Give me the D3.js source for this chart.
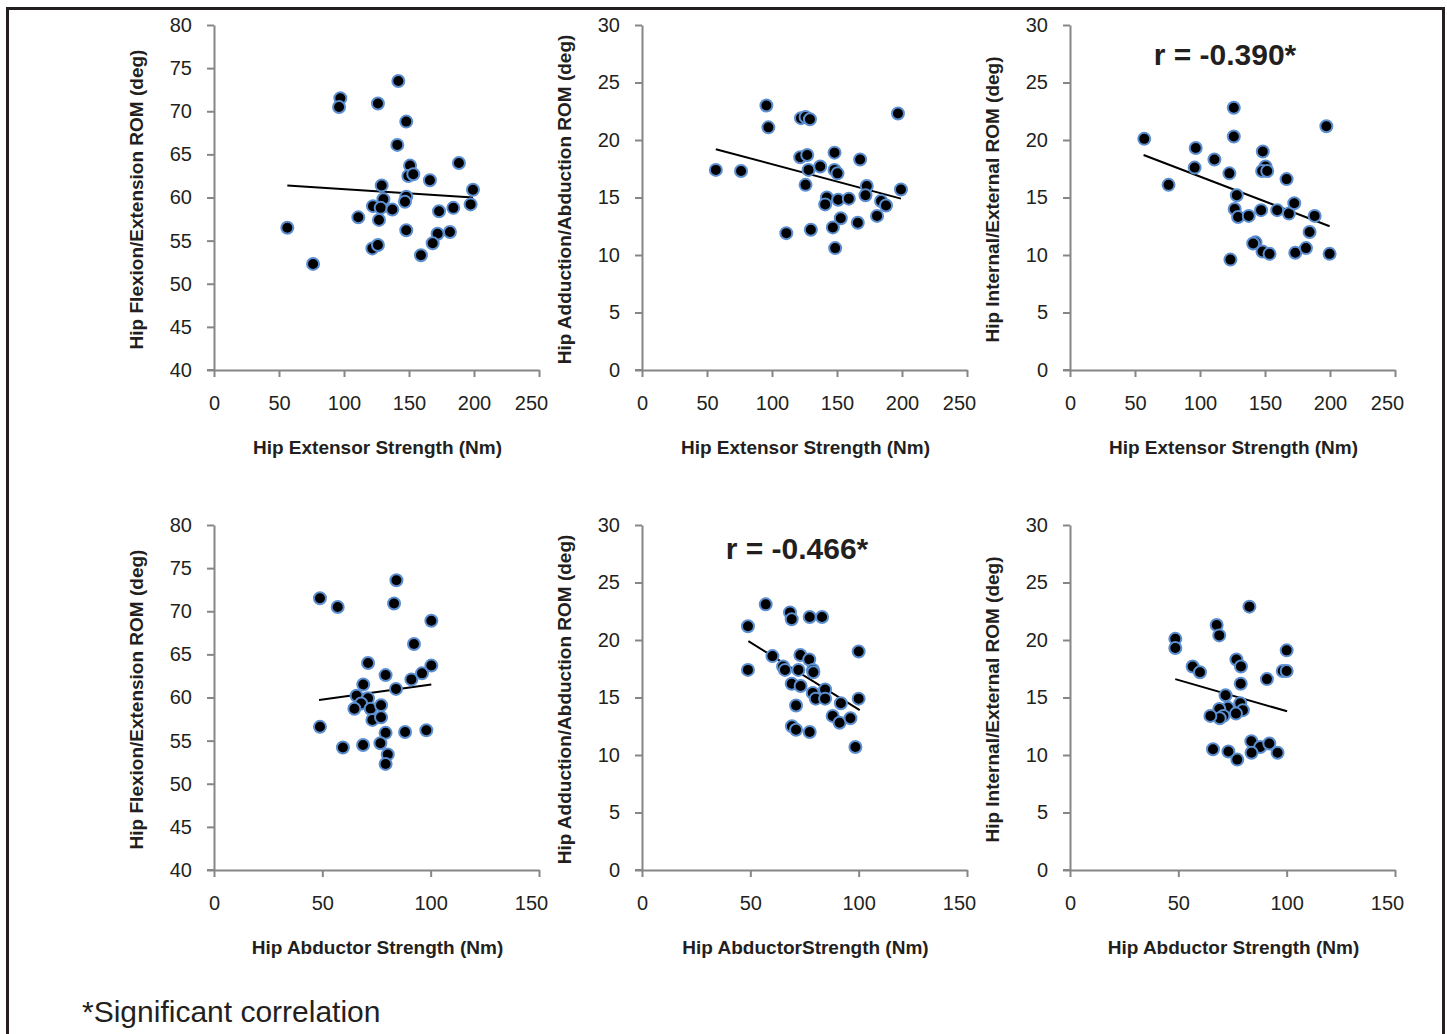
<!DOCTYPE html>
<html>
<head>
<meta charset="utf-8">
<script src="https://cdn.jsdelivr.net/npm/d3@7"></script>
<style>
  body { margin: 0; background: #fff; }
  text { font-family: "Liberation Sans", Arial, sans-serif; fill: #231f20; }
</style>
</head>
<body>
<div id="chart"></div>
<script>
// axis ticks
var extTicks = [0, 50, 100, 150, 200, 250];
var abdTicks = [0, 50, 100, 150];
var flexTicks = [40, 45, 50, 55, 60, 65, 70, 75, 80];
var romTicks = [0, 5, 10, 15, 20, 25, 30];

// panel 1: hip extensor strength vs flexion/extension ROM
var flexVsExt = [[56.4,56.5],[76.2,52.3],[97.2,71.5],[96.2,70.5],[126.1,70.9],[141.8,73.5],[147.9,68.8],
  [141.0,66.1],[150.8,63.7],[149.5,62.5],[153.3,62.7],[166.1,62.0],[188.4,64.0],[199.2,60.9],[197.4,59.2],
  [129.0,61.4],[130.3,59.8],[122.3,59.0],[128.2,58.8],[137.2,58.6],[147.9,60.1],[146.9,59.5],[111.0,57.7],
  [126.9,57.4],[173.1,58.4],[184.1,58.8],[147.9,56.2],[172.0,55.8],[181.5,56.0],[121.8,54.1],[126.1,54.5],
  [168.2,54.7],[159.2,53.3]];
var flexVsExtTrend = [[56.4,61.4],[199.2,60.0]];

// panel 2: hip extensor strength vs adduction/abduction ROM
var addVsExt = [[56.8,17.4],[76.2,17.3],[95.7,23.0],[97.2,21.1],[122.3,21.9],[125.8,22.0],[129.2,21.8],
  [121.7,18.5],[127.1,18.7],[128.1,17.4],[137.1,17.7],[148.1,18.9],[148.1,17.4],[150.4,17.1],[167.8,18.3],
  [125.8,16.1],[172.9,16.0],[171.9,15.2],[199.2,15.7],[196.9,22.3],[142.2,15.0],[140.9,14.4],[150.9,14.8],
  [159.1,14.9],[183.9,14.7],[187.7,14.3],[152.9,13.2],[166.0,12.8],[180.8,13.4],[111.0,11.9],[129.9,12.2],
  [146.8,12.4],[148.6,10.6]];
var addVsExtTrend = [[56.8,19.2],[199.2,14.9]];

// panel 3: hip extensor strength vs internal/external ROM
var rotVsExt = [[57.1,20.1],[75.8,16.1],[96.7,19.3],[95.9,17.6],[111.1,18.3],[122.6,17.1],[126.0,22.8],
  [126.0,20.3],[148.3,19.0],[150.4,17.7],[147.8,17.3],[151.7,17.3],[166.6,16.6],[197.2,21.2],[128.3,15.2],
  [126.7,14.0],[129.3,13.3],[137.5,13.4],[147.0,13.9],[159.4,13.9],[168.4,13.6],[172.5,14.5],[188.2,13.4],
  [184.3,12.0],[142.7,11.1],[140.9,11.0],[148.1,10.3],[153.5,10.1],[173.3,10.2],[181.5,10.6],[199.7,10.1],
  [123.4,9.6]];
var rotVsExtTrend = [[56.6,18.7],[199.7,12.5]];

// panel 4: hip abductor strength vs flexion/extension ROM
var flexVsAbd = [[48.9,71.5],[57.1,70.5],[84.2,73.6],[83.1,70.9],[100.3,68.9],[92.3,66.2],[71.1,64.0],
  [79.2,62.6],[91.1,62.1],[96.0,62.8],[100.3,63.7],[68.9,61.5],[84.0,61.0],[65.8,60.2],[71.1,59.9],
  [67.9,59.3],[64.8,58.7],[72.3,58.7],[77.1,59.1],[73.1,57.4],[77.1,57.7],[48.9,56.6],[79.2,55.9],
  [88.2,56.0],[98.0,56.2],[59.5,54.2],[68.8,54.5],[76.8,54.7],[80.2,53.4],[79.2,52.3]];
var flexVsAbdTrend = [[48.5,59.7],[100.3,61.5]];

// panel 5: hip abductor strength vs adduction/abduction ROM
var addVsAbd = [[48.9,21.2],[48.9,17.4],[57.1,23.1],[68.3,22.4],[69.1,21.8],[77.4,22.0],[83.1,22.0],
  [60.2,18.6],[65.1,17.7],[66.0,17.4],[73.1,18.7],[72.2,17.4],[77.2,18.3],[78.9,17.4],[79.1,17.2],
  [69.1,16.2],[73.2,16.0],[78.8,15.4],[80.2,14.9],[84.5,15.7],[84.5,14.9],[100.0,19.0],[100.0,14.9],
  [91.8,14.5],[71.1,14.3],[88.0,13.4],[91.2,12.8],[96.2,13.2],[69.2,12.5],[71.1,12.2],[77.4,12.0],
  [98.5,10.7]];
var addVsAbdTrend = [[49.1,19.9],[100.5,13.9]];

// panel 6: hip abductor strength vs internal/external ROM
var rotVsAbd = [[48.6,20.1],[48.6,19.3],[67.7,21.3],[68.9,20.4],[82.8,22.9],[56.6,17.7],[60.0,17.2],
  [76.8,18.3],[78.9,17.7],[78.8,16.2],[90.9,16.6],[100.0,19.1],[98.2,17.3],[100.0,17.3],[71.8,15.2],
  [78.6,14.5],[79.8,13.9],[72.9,14.1],[68.9,14.0],[70.8,13.4],[69.1,13.2],[64.8,13.4],[76.6,13.6],
  [83.7,11.2],[87.8,10.7],[92.0,11.0],[83.8,10.2],[95.8,10.2],[66.0,10.5],[73.1,10.3],[77.2,9.6]];
var rotVsAbdTrend = [[48.6,16.6],[100.2,13.8]];

var xTitles = ["Hip Extensor Strength (Nm)", "Hip Extensor Strength (Nm)", "Hip Extensor Strength (Nm)",
  "Hip Abductor Strength (Nm)", "Hip AbductorStrength (Nm)", "Hip Abductor Strength (Nm)"];
var yTitles = ["Hip Flexion/Extension ROM (deg)", "Hip Adduction/Abduction ROM (deg)", "Hip Internal/External ROM (deg)",
  "Hip Flexion/Extension ROM (deg)", "Hip Adduction/Abduction ROM (deg)", "Hip Internal/External ROM (deg)"];
var rLabels = ["", "", "r = -0.390*", "", "r = -0.466*", ""];

var width = 1447, height = 1034;
var plotW = 325, plotH = 345;
var colX = [214, 642, 1070];
var rowY = [25, 525];

var svg = d3.select("#chart").append("svg")
  .attr("width", width).attr("height", height);

svg.append("rect")
  .attr("x", 7.5).attr("y", 8.5)
  .attr("width", 1436).attr("height", 1040)
  .attr("fill", "#fff").attr("stroke", "#231f20").attr("stroke-width", 3);

var panels = [
  {pts: flexVsExt, trend: flexVsExtTrend, xt: extTicks, yt: flexTicks},
  {pts: addVsExt, trend: addVsExtTrend, xt: extTicks, yt: romTicks},
  {pts: rotVsExt, trend: rotVsExtTrend, xt: extTicks, yt: romTicks},
  {pts: flexVsAbd, trend: flexVsAbdTrend, xt: abdTicks, yt: flexTicks},
  {pts: addVsAbd, trend: addVsAbdTrend, xt: abdTicks, yt: romTicks},
  {pts: rotVsAbd, trend: rotVsAbdTrend, xt: abdTicks, yt: romTicks}
];

panels.forEach(function(p, i) {
  var ox = colX[i % 3], oy = rowY[Math.floor(i / 3)];
  var g = svg.append("g").attr("transform", "translate(" + ox + "," + oy + ")");

  var x = d3.scaleLinear().domain(d3.extent(p.xt)).range([0, plotW]);
  var y = d3.scaleLinear().domain(d3.extent(p.yt)).range([plotH, 0]);

  var xAxis = g.append("g").attr("transform", "translate(0," + plotH + ")")
    .call(d3.axisBottom(x).tickValues(p.xt).tickSize(7).tickSizeOuter(0).tickPadding(19));
  var yAxis = g.append("g")
    .call(d3.axisLeft(y).tickValues(p.yt).tickSize(7).tickSizeOuter(0).tickPadding(15));

  [xAxis, yAxis].forEach(function(a) {
    a.select(".domain").attr("stroke", "#868686").attr("stroke-width", 2);
    a.selectAll(".tick line").attr("stroke", "#868686").attr("stroke-width", 2);
    a.selectAll(".tick text").attr("font-size", 20).attr("fill", "#231f20")
      .attr("font-family", "Liberation Sans, Arial, sans-serif");
  });
  // little stub of the x axis left of the y axis
  g.append("line").attr("x1", -7).attr("x2", 0).attr("y1", plotH).attr("y2", plotH)
    .attr("stroke", "#868686").attr("stroke-width", 2);
  // last x label is pulled in like Excel does
  xAxis.selectAll(".tick text").filter(function(d) { return d === p.xt[p.xt.length - 1]; })
    .attr("dx", -8);

  g.append("line")
    .attr("x1", x(p.trend[0][0])).attr("y1", y(p.trend[0][1]))
    .attr("x2", x(p.trend[1][0])).attr("y2", y(p.trend[1][1]))
    .attr("stroke", "#000").attr("stroke-width", 2);

  g.append("g").selectAll("circle")
    .data(p.pts)
    .enter().append("circle")
    .attr("cx", function(d) { return x(d[0]); })
    .attr("cy", function(d) { return y(d[1]); })
    .attr("r", 6)
    .attr("fill", "#000")
    .attr("stroke", "#5b8fd1")
    .attr("stroke-width", 2);

  g.append("text")
    .attr("x", plotW / 2 + 1).attr("y", plotH + 84)
    .attr("text-anchor", "middle")
    .attr("font-size", 19).attr("font-weight", "bold")
    .text(xTitles[i]);

  g.append("text")
    .attr("transform", "translate(-71," + (plotH / 2 + 2) + ") rotate(-90)")
    .attr("text-anchor", "middle")
    .attr("font-size", 19).attr("font-weight", "bold")
    .text(yTitles[i]);

  if (rLabels[i]) {
    g.append("text")
      .attr("x", 155).attr("y", i === 2 ? 40 : 34)
      .attr("text-anchor", "middle")
      .attr("font-size", 30).attr("font-weight", "bold")
      .text(rLabels[i]);
  }
});

svg.append("text")
  .attr("x", 82).attr("y", 1022)
  .attr("font-size", 30)
  .text("*Significant correlation");
</script>
</body>
</html>
